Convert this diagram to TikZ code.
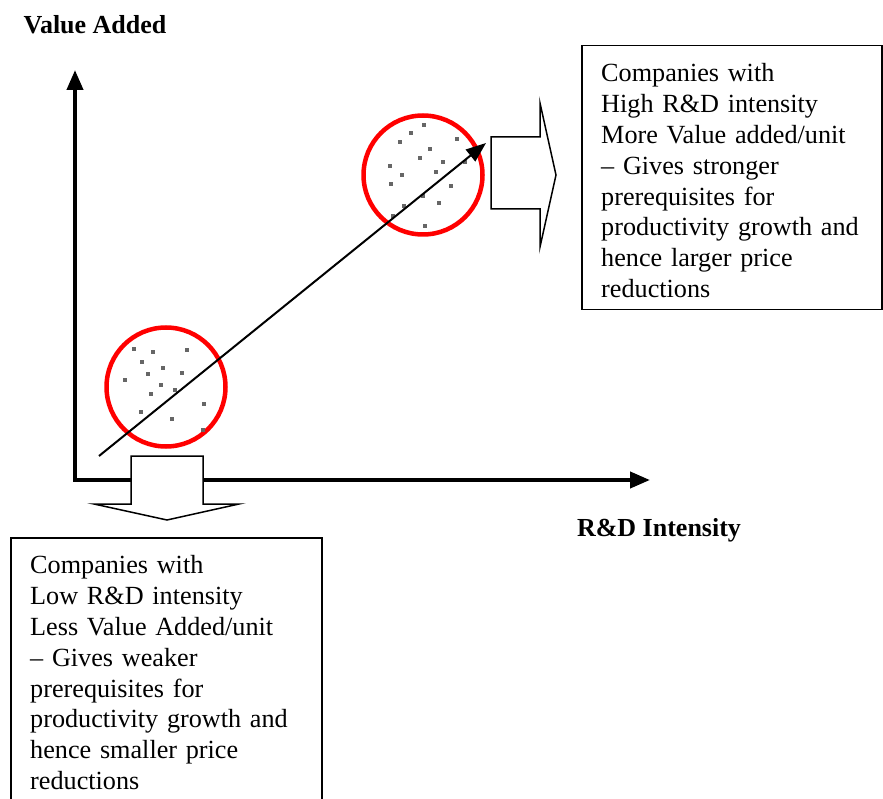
\documentclass[tikz,border=0pt]{standalone}
\usepackage{fontspec}
\setmainfont{Liberation Serif}
\usetikzlibrary{arrows.meta}
\begin{document}
\begin{tikzpicture}[x=1pt,y=-1pt,
  axis/.style={line width=4pt,line join=miter,
    {Triangle[length=20pt,width=16pt]}-{Triangle[length=20pt,width=16pt]}},
  ring/.style={circle,draw=red,line width=4.5pt,minimum size=119pt,inner sep=0pt},
  speck/.style={fill=black!60},
  blockarrow/.style={draw=black,fill=white,line width=1.5pt,line join=miter},
  frame/.style={draw=black,line width=1.5pt,anchor=north west,inner sep=0pt},
  infotext/.style={anchor=north west,align=left,inner xsep=20pt,inner ysep=18.5pt,
    text width=290pt,font=\fontsize{26.2}{30.8}\selectfont},
  axislabel/.style={font=\fontsize{26}{30}\selectfont\bfseries},
  trend/.style={line width=2pt,-{Triangle[length=20pt,width=15pt]}}]
\useasboundingbox (0,0) rectangle (883,799);

% axes
\coordinate (O) at (75,480);
\coordinate (ytip) at (75,70);
\coordinate (xtip) at (650,480);
\draw[axis] (ytip) -- (O) -- (xtip);
\node[axislabel] (ylab) at (95,25) {Value Added};
\node[axislabel] (xlab) at (659,530) {R\&D Intensity};

% clusters of companies
\node[ring] (lo) at (166,387) {};
\node[ring] (hi) at (423,175) {};
\foreach \px/\py in {134/349,153/352,187/350,142/362,163/368,148/374,182/373,125/380,
  161/385,175/390,151/394,204/404,141/412,172/419,203/430}
  \fill[speck] (\px-1.7,\py-1.7) rectangle ++(3.4,3.4);
\foreach \px/\py in {424/125,411/133,457/139,400/142,430/149,420/158,443/162,465/162,
  390/166,402/175,436/172,391/184,451/186,423/196,439/203,404/206,393/216,425/226}
  \fill[speck] (\px-1.7,\py-1.7) rectangle ++(3.4,3.4);

% trend from low to high R&D intensity
\coordinate (tstart) at (99,456);
\coordinate (tend) at (486,143);
\draw[trend] (tstart) -- (tend);

% block arrows
\draw[blockarrow] (491,137) -- (540,137) -- (540,103) -- (556,175) -- (540,247)
  -- (540,209) -- (491,209) -- cycle;
\draw[blockarrow] (131,456) -- (203,456) -- (203,504) -- (239,504) -- (167,520)
  -- (94,504) -- (131,504) -- cycle;

% explanation boxes
\node[frame,minimum width=300pt,minimum height=264pt] (hibox) at (581,45) {};
\node[infotext] (hitext) at (hibox.north west) {Companies with\\High R\&D intensity\\
  More Value added/unit\\– Gives stronger\\prerequisites for\\productivity growth and\\
  hence larger price\\reductions};
\begin{scope}
\clip (0,0) rectangle (883,799);
\node[frame,minimum width=311pt,minimum height=290pt] (lobox) at (10,537) {};
\end{scope}
\node[infotext] (lotext) at (lobox.north west) {Companies with\\Low R\&D intensity\\
  Less Value Added/unit\\– Gives weaker\\prerequisites for\\productivity growth and\\
  hence smaller price\\reductions};
\end{tikzpicture}
\end{document}
